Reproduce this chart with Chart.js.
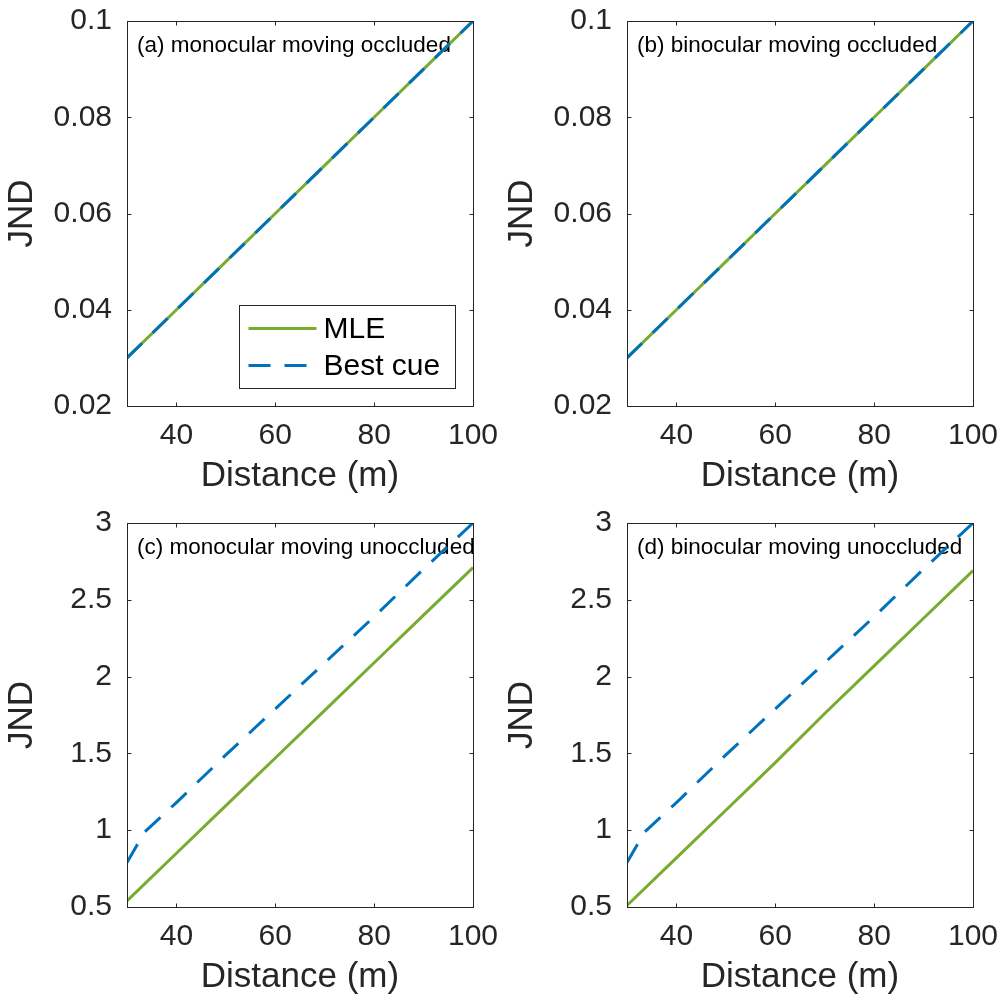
<!DOCTYPE html>
<html><head><meta charset="utf-8">
<script src="https://cdn.jsdelivr.net/npm/chart.js@4.4.1/dist/chart.umd.min.js"></script>
<style>
html,body{margin:0;padding:0;background:#fff;}
#wrap{position:relative;width:1003px;height:1000px;overflow:hidden;}
canvas{position:absolute;}
</style></head><body>
<div id="wrap">
<canvas id="ca" width="500" height="500" style="left:0;top:0"></canvas>
<canvas id="cb" width="503" height="500" style="left:500px;top:0"></canvas>
<canvas id="cc" width="500" height="500" style="left:0;top:500px"></canvas>
<canvas id="cd" width="503" height="500" style="left:500px;top:500px"></canvas>
</div>
<script>
// ---- data ----
const panelTitles = ['(a) monocular moving occluded', '(b) binocular moving occluded',
                     '(c) monocular moving unoccluded', '(d) binocular moving unoccluded'];
const seriesNames = ['MLE', 'Best cue'];
const xAxisTitle = 'Distance (m)';
const yAxisTitle = 'JND';
const xTicks = [40, 60, 80, 100];
const yTicksOccl = [0.02, 0.04, 0.06, 0.08, 0.1];
const yTicksUnoccl = [0.5, 1, 1.5, 2, 2.5, 3];

const distOccl = [30, 40, 50, 60, 70, 80, 90, 100];
const mleA  = [0.03, 0.04, 0.05, 0.06, 0.07, 0.08, 0.09, 0.1];
const bestA = [0.03, 0.04, 0.05, 0.06, 0.07, 0.08, 0.09, 0.1];
const mleB  = [0.03, 0.04, 0.05, 0.06, 0.07, 0.08, 0.09, 0.1];
const bestB = [0.03, 0.04, 0.05, 0.06, 0.07, 0.08, 0.09, 0.1];

const distMle = [30, 40, 50, 60, 70, 80, 90, 100];
const mleC = [0.54, 0.85, 1.16, 1.47, 1.78, 2.09, 2.40, 2.71];
const mleD = [0.51, 0.82, 1.13, 1.44, 1.76, 2.07, 2.38, 2.69];
const distBest = [30, 33.6, 40, 50, 60, 70, 80, 90, 100];
const bestC = [0.79, 0.99, 1.18, 1.49, 1.79, 2.09, 2.39, 2.70, 3.0];
const bestD = [0.79, 0.99, 1.18, 1.49, 1.79, 2.09, 2.39, 2.70, 3.0];

// ---- style ----
const FONT = '"Liberation Sans", Arial, Helvetica, sans-serif';
const AXIS = '#262626';
const GREEN = '#77AC30';
const BLUE = '#0072BD';
const DASH = [21, 14.8];
const TICK_SIZE = 30;
const TITLE_SIZE = 35;

const pts = (xs, ys) => xs.map((x, i) => ({x: x, y: ys[i]}));

const decor = {
  id: 'decor',
  beforeDatasetsDraw(chart, args, o) {
    const {ctx, chartArea: a} = chart;
    ctx.save();
    ctx.font = '22.5px ' + FONT;
    ctx.fillStyle = '#000';
    ctx.textBaseline = 'middle';
    ctx.textAlign = 'left';
    ctx.fillText(o.title, a.left + 10, a.top + 25);
    ctx.restore();
  },
  afterDatasetsDraw(chart, args, o) {
    const {ctx, chartArea: a, scales: {x, y}} = chart;
    ctx.save();
    const L = Math.round(a.left) + 0.5, R = Math.round(a.right) + 0.5;
    const T = Math.round(a.top) + 0.5, B = Math.round(a.bottom) + 0.5;
    ctx.strokeStyle = AXIS; ctx.lineWidth = 1;
    ctx.beginPath();
    x.ticks.forEach(t => {
      const p = Math.round(x.getPixelForValue(t.value)) + 0.5;
      ctx.moveTo(p, B); ctx.lineTo(p, B - 4);
      ctx.moveTo(p, T); ctx.lineTo(p, T + 4);
    });
    y.ticks.forEach(t => {
      const p = Math.round(y.getPixelForValue(t.value)) + 0.5;
      ctx.moveTo(L, p); ctx.lineTo(L + 4, p);
      ctx.moveTo(R, p); ctx.lineTo(R - 4, p);
    });
    ctx.stroke();
    ctx.strokeRect(L, T, R - L, B - T);
    if (o.legend) {
      const bw = 216, bh = 83;
      const bx = Math.round(a.right - 18 - bw) + 0.5, by = Math.round(a.bottom - 18 - bh) + 0.5;
      ctx.fillStyle = '#fff';
      ctx.fillRect(bx, by, bw, bh);
      ctx.strokeStyle = AXIS; ctx.lineWidth = 1;
      ctx.strokeRect(bx, by, bw, bh);
      const rows = [23, 60];
      chart.data.datasets.forEach((ds, i) => {
        const yy = by + rows[i];
        ctx.strokeStyle = ds.borderColor;
        ctx.lineWidth = ds.borderWidth;
        ctx.lineCap = 'butt';
        ctx.setLineDash(ds.borderDash ? [22, 14] : []);
        ctx.beginPath(); ctx.moveTo(bx + 9, yy); ctx.lineTo(bx + 77, yy); ctx.stroke();
        ctx.setLineDash([]);
        ctx.font = '30px ' + FONT;
        ctx.fillStyle = '#000';
        ctx.textBaseline = 'middle';
        ctx.textAlign = 'left';
        ctx.fillText(ds.label, bx + 84, yy + 1);
      });
    }
    ctx.restore();
  }
};

function make(id, title, mleX, mle, bestX, best, yTicks, yMin, yMax, padTop, padRight, xH, legend) {
  const half = TITLE_SIZE * 1.2 / 2;
  return new Chart(document.getElementById(id), {
    type: 'line',
    data: {
      datasets: [
        {label: seriesNames[0], data: pts(mleX, mle), borderColor: GREEN, borderWidth: 3,
         pointRadius: 0, tension: 0, fill: false, order: 1, borderCapStyle: 'butt'},
        {label: seriesNames[1], data: pts(bestX, best), borderColor: BLUE, borderWidth: 3,
         borderDash: DASH, pointRadius: 0, tension: 0, fill: false, order: 0, borderCapStyle: 'butt'}
      ]
    },
    options: {
      responsive: false, maintainAspectRatio: false, animation: false,
      devicePixelRatio: 1,
      layout: {padding: {top: padTop, right: padRight, left: 0, bottom: 0}},
      plugins: {legend: {display: false}, tooltip: {enabled: false},
                decor: {title: title, legend: legend}},
      scales: {
        x: {
          type: 'linear', min: 30, max: 100,
          afterBuildTicks: s => { s.ticks = xTicks.map(v => ({value: v})); },
          afterFit: s => { s.height = xH; s.paddingLeft = 0; s.paddingRight = 0; },
          grid: {display: false, drawTicks: false},
          border: {display: false},
          ticks: {font: {size: TICK_SIZE, family: FONT}, color: AXIS, padding: 12, maxRotation: 0,
                  callback: v => String(v)},
          title: {display: true, text: xAxisTitle, font: {size: TITLE_SIZE, family: FONT}, color: AXIS,
                  padding: {top: 0, bottom: xH - 70 - half}}
        },
        y: {
          type: 'linear', min: yMin, max: yMax,
          afterBuildTicks: s => { s.ticks = yTicks.map(v => ({value: v})); },
          afterFit: s => { s.width = 127; s.paddingTop = 0; s.paddingBottom = 0; },
          grid: {display: false, drawTicks: false},
          border: {display: false},
          ticks: {font: {size: TICK_SIZE, family: FONT}, color: AXIS, padding: 15,
                  callback: v => String(v)},
          title: {display: true, text: yAxisTitle, font: {size: TITLE_SIZE, family: FONT}, color: AXIS,
                  padding: {top: 22.5 - half, bottom: 0}}
        }
      }
    },
    plugins: [decor]
  });
}

make('ca', panelTitles[0], distOccl, mleA, distOccl, bestA, yTicksOccl, 0.02, 0.1, 21, 27, 94, true);
make('cb', panelTitles[1], distOccl, mleB, distOccl, bestB, yTicksOccl, 0.02, 0.1, 21, 30, 94, false);
make('cc', panelTitles[2], distMle, mleC, distBest, bestC, yTicksUnoccl, 0.5, 3, 23, 27, 93, false);
make('cd', panelTitles[3], distMle, mleD, distBest, bestD, yTicksUnoccl, 0.5, 3, 23, 30, 93, false);
</script>
</body></html>
